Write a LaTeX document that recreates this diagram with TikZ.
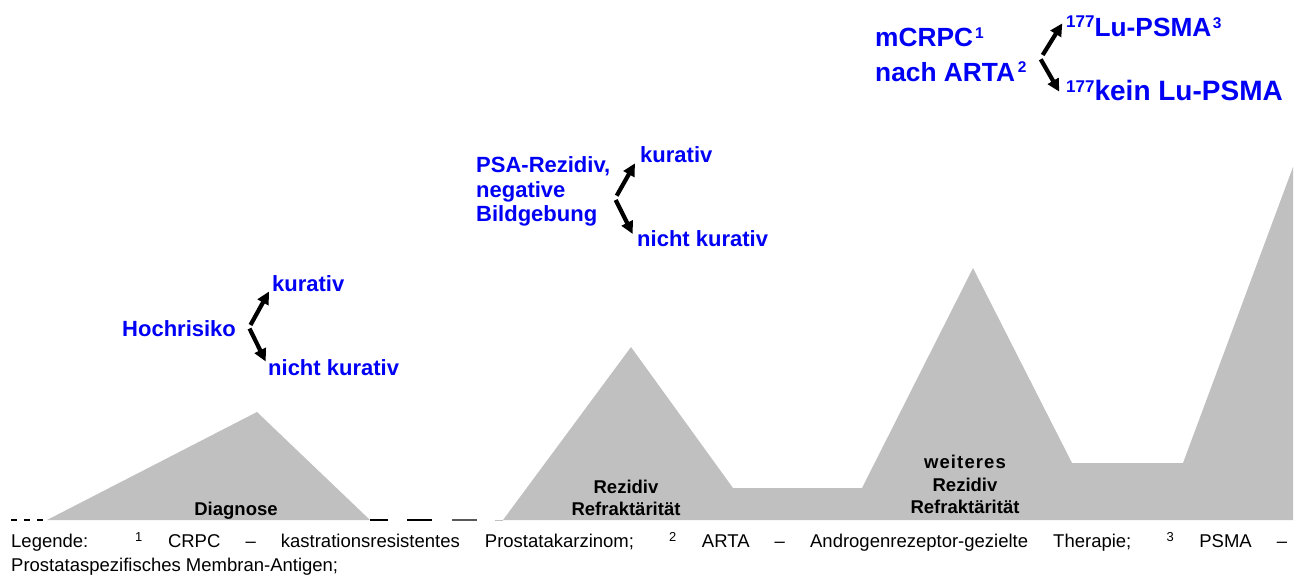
\documentclass[tikz,border=0pt]{standalone}
\usepackage{fontspec}
\setmainfont{Liberation Sans}
\usetikzlibrary{arrows.meta}
\definecolor{hill}{HTML}{C0C0C0}
\definecolor{lbl}{RGB}{0,0,245}
\newcommand{\supnum}[2]{\raisebox{#1}{\fontsize{15.5}{15}\selectfont\bfseries #2}}
\newcommand{\isotope}[1]{\raisebox{#1}{\fontsize{17}{17}\selectfont\bfseries 177}}

\begin{document}
\begin{tikzpicture}[x=1pt,y=-1pt,
  bluetxt/.style={text=lbl, inner sep=0pt, anchor=base west,
    font=\fontsize{22}{24}\selectfont\bfseries},
  bigtxt/.style={text=lbl, inner sep=0pt, anchor=base west,
    font=\fontsize{26.3}{28}\selectfont\bfseries},
  hilltxt/.style={text=black, inner sep=0pt, anchor=base,
    font=\fontsize{18.5}{22}\selectfont\bfseries},
  legtxt/.style={inner sep=0pt, anchor=base west,
    font=\fontsize{18.5}{24}\selectfont},
  branch/.style={line width=4.2pt, -{Triangle[length=12.5pt,width=12pt]}},
  baseline dash/.style={line width=2pt}]
\useasboundingbox (0,0) rectangle (1297,579);

% hills
\fill[hill] (47,520) -- (257,412) -- (370,520) -- cycle;
\fill[hill] (503,520) -- (631,347) -- (733,488) -- (862,488) -- (973,268)
  -- (1072,463) -- (1183,463) -- (1293,167) -- (1293,520) -- cycle;
\draw[hill, line width=1pt] (495,520) -- (503,520);

% dashed base line
\foreach \a/\b in {11/17, 24/30, 37/43, 370/388, 407/432}
  \draw[baseline dash] (\a,520) -- (\b,520);
\draw[baseline dash, black!65] (452,520) -- (477,520);

% hill labels
\node[hilltxt] (diag) at (236,515) {Diagnose};
\node[hilltxt] (rez1) at (626,493) {Rezidiv};
\node[hilltxt] (rez2) at (626,515) {Refraktärität};
\node[hilltxt] (wei1) at (965,468) {\addfontfeature{LetterSpace=6}weiteres};
\node[hilltxt] (wei2) at (965,491) {Rezidiv};
\node[hilltxt] (wei3) at (965,513) {Refraktärität};

% first decision
\node[bluetxt] (hoch) at (122,336) {Hochrisiko};
\node[bluetxt] (hkur) at (272,291) {kurativ};
\node[bluetxt] (hnk) at (268,375) {nicht kurativ};
\coordinate (hforkA) at (250.5,325);
\coordinate (hforkB) at (249.5,328.5);
\coordinate (htipA) at (269,291.5);
\coordinate (htipB) at (265.7,361.5);
\draw[branch] (hforkA) -- (htipA);
\draw[branch] (hforkB) -- (htipB);

% second decision
\node[bluetxt] (psa1) at (476,172.7) {PSA-Rezidiv,};
\node[bluetxt] (psa2) at (476,197.2) {negative};
\node[bluetxt] (psa3) at (476,221.7) {Bildgebung};
\node[bluetxt] (pkur) at (640,162.5) {kurativ};
\node[bluetxt] (pnk) at (637,246.5) {nicht kurativ};
\coordinate (pforkA) at (616.7,195.7);
\coordinate (pforkB) at (615.7,200);
\coordinate (ptipA) at (635,163.3);
\coordinate (ptipB) at (632.7,234);
\draw[branch] (pforkA) -- (ptipA);
\draw[branch] (pforkB) -- (ptipB);

% third decision
\node[bigtxt] (mcrpc) at (875,46.7) {mCRPC\kern2pt\supnum{8.5pt}{1}};
\node[bigtxt] (arta) at (875,81.7) {nach ARTA\kern3pt\supnum{9.5pt}{2}};
\node[bigtxt] (lu) at (1066,36.7) {\isotope{9.5pt}Lu-PSMA\kern1.5pt\supnum{8.5pt}{3}};
\node[bigtxt, font=\fontsize{28}{30}\selectfont\bfseries] (nolu) at (1066,100)
  {\isotope{8pt}kein Lu-PSMA};
\coordinate (mforkA) at (1042.7,55);
\coordinate (mforkB) at (1040.7,59.3);
\coordinate (mtipA) at (1062.3,23.3);
\coordinate (mtipB) at (1059.3,91.7);
\draw[branch] (mforkA) -- (mtipA);
\draw[branch] (mforkB) -- (mtipB);

% legend
\node[legtxt] (leg1) at (11,547.5) {\makebox[1276pt][s]{Legende: \textsuperscript{1} CRPC – kastrationsresistentes Prostatakarzinom; \textsuperscript{2} ARTA – Androgenrezeptor-gezielte Therapie; \textsuperscript{3} PSMA –}};
\node[legtxt] (leg2) at (11,571.5) {Prostataspezifisches Membran-Antigen;};
\end{tikzpicture}
\end{document}
